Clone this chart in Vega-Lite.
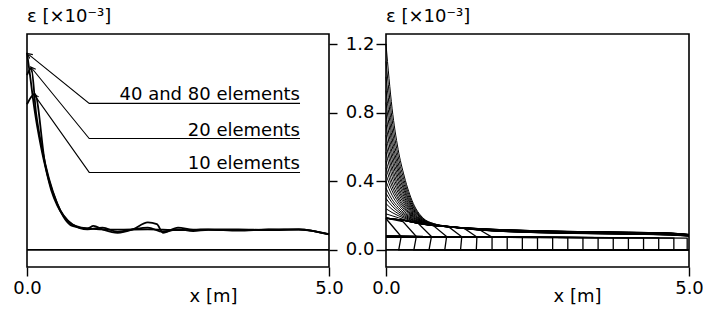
{
"$schema": "https://vega.github.io/schema/vega-lite/v6.json",
"padding": {"left": 11, "top": 7, "right": 0, "bottom": 0},
"background": "white",
"spacing": 57,
"bounds": "flush",
"config": {
  "font": "DejaVu Sans",
  "view": {"stroke": "black", "strokeWidth": 1.6},
  "axis": {"grid": false, "domain": false, "labelFont": "DejaVu Sans", "labelFontSize": 18, "labelColor": "black", "tickColor": "black", "tickWidth": 1.4, "titleFont": "DejaVu Sans", "titleFontSize": 18, "titleFontWeight": "normal", "titleColor": "black", "labelFlush": false},
  "title": {"font": "DejaVu Sans", "fontSize": 18, "fontWeight": "normal", "color": "black", "anchor": "start", "frame": "group", "offset": 8}
},
"datasets": {
  "left": [
    {"s":"a","x":0,"e":1.15},{"s":"a","x":0.05,"e":1.02},{"s":"a","x":0.1,"e":0.88},{"s":"a","x":0.15,"e":0.76},{"s":"a","x":0.2,"e":0.66},{"s":"a","x":0.25,"e":0.57},{"s":"a","x":0.3,"e":0.49},{"s":"a","x":0.4,"e":0.35},{"s":"a","x":0.5,"e":0.26},{"s":"a","x":0.6,"e":0.2},{"s":"a","x":0.7,"e":0.16},{"s":"a","x":0.8,"e":0.14},{"s":"a","x":0.9,"e":0.13},{"s":"a","x":1.0,"e":0.125},{"s":"a","x":1.2,"e":0.12},{"s":"a","x":1.5,"e":0.118},{"s":"a","x":2.0,"e":0.12},{"s":"a","x":2.5,"e":0.115},{"s":"a","x":3.0,"e":0.118},{"s":"a","x":3.5,"e":0.112},{"s":"a","x":4.0,"e":0.12},{"s":"a","x":4.5,"e":0.118},{"s":"a","x":4.75,"e":0.11},{"s":"a","x":5.0,"e":0.092},
    {"s":"b","x":0,"e":1.02},{"s":"b","x":0.07,"e":1.06},{"s":"b","x":0.15,"e":0.8},{"s":"b","x":0.25,"e":0.59},{"s":"b","x":0.5,"e":0.27},{"s":"b","x":0.75,"e":0.15},{"s":"b","x":1.0,"e":0.12},{"s":"b","x":1.25,"e":0.13},{"s":"b","x":1.5,"e":0.105},{"s":"b","x":1.75,"e":0.12},{"s":"b","x":2.0,"e":0.13},{"s":"b","x":2.25,"e":0.105},{"s":"b","x":2.5,"e":0.12},{"s":"b","x":2.75,"e":0.11},{"s":"b","x":3.0,"e":0.117},{"s":"b","x":3.5,"e":0.115},{"s":"b","x":4.0,"e":0.118},{"s":"b","x":4.5,"e":0.12},{"s":"b","x":5.0,"e":0.09},
    {"s":"c","x":0,"e":0.85},{"s":"c","x":0.13,"e":0.91},{"s":"c","x":0.3,"e":0.5},{"s":"c","x":0.5,"e":0.27},{"s":"c","x":0.75,"e":0.14},{"s":"c","x":1.0,"e":0.125},{"s":"c","x":1.1,"e":0.14},{"s":"c","x":1.25,"e":0.12},{"s":"c","x":1.5,"e":0.1},{"s":"c","x":1.75,"e":0.12},{"s":"c","x":2.0,"e":0.16},{"s":"c","x":2.15,"e":0.15},{"s":"c","x":2.25,"e":0.1},{"s":"c","x":2.5,"e":0.13},{"s":"c","x":2.75,"e":0.118},{"s":"c","x":3.0,"e":0.12},{"s":"c","x":3.5,"e":0.12},{"s":"c","x":4.0,"e":0.115},{"s":"c","x":4.5,"e":0.12},{"s":"c","x":5.0,"e":0.09}
  ],
  "leaders": [
    {"s":"a","o":0,"x":0.03,"e":1.14},{"s":"a","o":1,"x":1.03,"e":0.855},{"s":"a","o":2,"x":4.52,"e":0.855},
    {"s":"b","o":0,"x":0.08,"e":1.06},{"s":"b","o":1,"x":1.03,"e":0.65},{"s":"b","o":2,"x":4.52,"e":0.65},
    {"s":"c","o":0,"x":0.13,"e":0.9},{"s":"c","o":1,"x":1.03,"e":0.452},{"s":"c","o":2,"x":4.52,"e":0.452}
  ],
  "labels": [
    {"t":"40 and 80 elements","x":4.52,"e":0.855},
    {"t":"20 elements","x":4.52,"e":0.65},
    {"t":"10 elements","x":4.52,"e":0.452}
  ],
  "zero": [{"x":0,"e":0},{"x":5,"e":0}],
  "dense": [
    {"c":1,"x":0,"e":1.2},{"c":1,"x":0.1,"e":0.827},{"c":1,"x":0.2,"e":0.587},{"c":1,"x":0.3,"e":0.431},{"c":1,"x":0.45,"e":0.271},{"c":1,"x":0.6,"e":0.19},{"c":1,"x":0.8,"e":0.152},{"c":1,"x":1.0,"e":0.139},{"c":1,"x":1.5,"e":0.125},{"c":1,"x":2,"e":0.117},{"c":1,"x":3,"e":0.108},{"c":1,"x":4,"e":0.103},{"c":1,"x":4.7,"e":0.098},{"c":1,"x":5,"e":0.09},
    {"c":2,"x":0,"e":1.1},{"c":2,"x":0.1,"e":0.764},{"c":2,"x":0.2,"e":0.547},{"c":2,"x":0.3,"e":0.405},{"c":2,"x":0.45,"e":0.26},{"c":2,"x":0.6,"e":0.186},{"c":2,"x":0.8,"e":0.151},{"c":2,"x":1.0,"e":0.139},{"c":2,"x":1.5,"e":0.125},{"c":2,"x":2,"e":0.117},{"c":2,"x":3,"e":0.108},{"c":2,"x":4,"e":0.103},{"c":2,"x":4.7,"e":0.098},{"c":2,"x":5,"e":0.09},
    {"c":3,"x":0,"e":1.01},{"c":3,"x":0.1,"e":0.707},{"c":3,"x":0.2,"e":0.51},{"c":3,"x":0.3,"e":0.382},{"c":3,"x":0.45,"e":0.25},{"c":3,"x":0.6,"e":0.183},{"c":3,"x":0.8,"e":0.15},{"c":3,"x":1.0,"e":0.138},{"c":3,"x":1.5,"e":0.125},{"c":3,"x":2,"e":0.117},{"c":3,"x":3,"e":0.108},{"c":3,"x":4,"e":0.103},{"c":3,"x":4.7,"e":0.098},{"c":3,"x":5,"e":0.09},
    {"c":4,"x":0,"e":0.93},{"c":4,"x":0.1,"e":0.656},{"c":4,"x":0.2,"e":0.478},{"c":4,"x":0.3,"e":0.361},{"c":4,"x":0.45,"e":0.241},{"c":4,"x":0.6,"e":0.18},{"c":4,"x":0.8,"e":0.149},{"c":4,"x":1.0,"e":0.138},{"c":4,"x":1.5,"e":0.124},{"c":4,"x":2,"e":0.116},{"c":4,"x":3,"e":0.107},{"c":4,"x":4,"e":0.102},{"c":4,"x":4.7,"e":0.097},{"c":4,"x":5,"e":0.089},
    {"c":5,"x":0,"e":0.86},{"c":5,"x":0.1,"e":0.611},{"c":5,"x":0.2,"e":0.45},{"c":5,"x":0.3,"e":0.344},{"c":5,"x":0.45,"e":0.234},{"c":5,"x":0.6,"e":0.177},{"c":5,"x":0.8,"e":0.148},{"c":5,"x":1.0,"e":0.138},{"c":5,"x":1.5,"e":0.124},{"c":5,"x":2,"e":0.116},{"c":5,"x":3,"e":0.107},{"c":5,"x":4,"e":0.102},{"c":5,"x":4.7,"e":0.097},{"c":5,"x":5,"e":0.089},
    {"c":6,"x":0,"e":0.79},{"c":6,"x":0.1,"e":0.567},{"c":6,"x":0.2,"e":0.422},{"c":6,"x":0.3,"e":0.326},{"c":6,"x":0.45,"e":0.226},{"c":6,"x":0.6,"e":0.174},{"c":6,"x":0.8,"e":0.147},{"c":6,"x":1.0,"e":0.137},{"c":6,"x":1.5,"e":0.123},{"c":6,"x":2,"e":0.115},{"c":6,"x":3,"e":0.106},{"c":6,"x":4,"e":0.101},{"c":6,"x":4.7,"e":0.096},{"c":6,"x":5,"e":0.088},
    {"c":7,"x":0,"e":0.73},{"c":7,"x":0.1,"e":0.529},{"c":7,"x":0.2,"e":0.398},{"c":7,"x":0.3,"e":0.31},{"c":7,"x":0.45,"e":0.219},{"c":7,"x":0.6,"e":0.172},{"c":7,"x":0.8,"e":0.146},{"c":7,"x":1.0,"e":0.137},{"c":7,"x":1.5,"e":0.123},{"c":7,"x":2,"e":0.115},{"c":7,"x":3,"e":0.106},{"c":7,"x":4,"e":0.101},{"c":7,"x":4.7,"e":0.096},{"c":7,"x":5,"e":0.088},
    {"c":8,"x":0,"e":0.67},{"c":8,"x":0.1,"e":0.491},{"c":8,"x":0.2,"e":0.373},{"c":8,"x":0.3,"e":0.295},{"c":8,"x":0.45,"e":0.213},{"c":8,"x":0.6,"e":0.169},{"c":8,"x":0.8,"e":0.146},{"c":8,"x":1.0,"e":0.137},{"c":8,"x":1.5,"e":0.122},{"c":8,"x":2,"e":0.114},{"c":8,"x":3,"e":0.105},{"c":8,"x":4,"e":0.1},{"c":8,"x":4.7,"e":0.095},{"c":8,"x":5,"e":0.087},
    {"c":9,"x":0,"e":0.62},{"c":9,"x":0.1,"e":0.459},{"c":9,"x":0.2,"e":0.353},{"c":9,"x":0.3,"e":0.282},{"c":9,"x":0.45,"e":0.207},{"c":9,"x":0.6,"e":0.167},{"c":9,"x":0.8,"e":0.145},{"c":9,"x":1.0,"e":0.137},{"c":9,"x":1.5,"e":0.122},{"c":9,"x":2,"e":0.114},{"c":9,"x":3,"e":0.105},{"c":9,"x":4,"e":0.1},{"c":9,"x":4.7,"e":0.095},{"c":9,"x":5,"e":0.087},
    {"c":10,"x":0,"e":0.57},{"c":10,"x":0.1,"e":0.427},{"c":10,"x":0.2,"e":0.333},{"c":10,"x":0.3,"e":0.269},{"c":10,"x":0.45,"e":0.202},{"c":10,"x":0.6,"e":0.165},{"c":10,"x":0.8,"e":0.145},{"c":10,"x":1.0,"e":0.137},{"c":10,"x":1.5,"e":0.121},{"c":10,"x":2,"e":0.112},{"c":10,"x":3,"e":0.103},{"c":10,"x":4,"e":0.098},{"c":10,"x":4.7,"e":0.093},{"c":10,"x":5,"e":0.086},
    {"c":11,"x":0,"e":0.52},{"c":11,"x":0.1,"e":0.396},{"c":11,"x":0.2,"e":0.313},{"c":11,"x":0.3,"e":0.256},{"c":11,"x":0.45,"e":0.196},{"c":11,"x":0.6,"e":0.163},{"c":11,"x":0.8,"e":0.144},{"c":11,"x":1.0,"e":0.136},{"c":11,"x":1.5,"e":0.12},{"c":11,"x":2,"e":0.111},{"c":11,"x":3,"e":0.102},{"c":11,"x":4,"e":0.097},{"c":11,"x":4.7,"e":0.092},{"c":11,"x":5,"e":0.085},
    {"c":12,"x":0,"e":0.48},{"c":12,"x":0.1,"e":0.37},{"c":12,"x":0.2,"e":0.297},{"c":12,"x":0.3,"e":0.246},{"c":12,"x":0.45,"e":0.192},{"c":12,"x":0.6,"e":0.162},{"c":12,"x":0.8,"e":0.143},{"c":12,"x":1.0,"e":0.136},{"c":12,"x":1.5,"e":0.12},{"c":12,"x":2,"e":0.11},{"c":12,"x":3,"e":0.101},{"c":12,"x":4,"e":0.096},{"c":12,"x":4.7,"e":0.091},{"c":12,"x":5,"e":0.084},
    {"c":13,"x":0,"e":0.44},{"c":13,"x":0.1,"e":0.345},{"c":13,"x":0.2,"e":0.281},{"c":13,"x":0.3,"e":0.236},{"c":13,"x":0.45,"e":0.188},{"c":13,"x":0.6,"e":0.16},{"c":13,"x":0.8,"e":0.143},{"c":13,"x":1.0,"e":0.136},{"c":13,"x":1.5,"e":0.119},{"c":13,"x":2,"e":0.109},{"c":13,"x":3,"e":0.1},{"c":13,"x":4,"e":0.095},{"c":13,"x":4.7,"e":0.09},{"c":13,"x":5,"e":0.083},
    {"c":14,"x":0,"e":0.4},{"c":14,"x":0.1,"e":0.319},{"c":14,"x":0.2,"e":0.265},{"c":14,"x":0.3,"e":0.226},{"c":14,"x":0.45,"e":0.183},{"c":14,"x":0.6,"e":0.158},{"c":14,"x":0.8,"e":0.143},{"c":14,"x":1.0,"e":0.136},{"c":14,"x":1.5,"e":0.119},{"c":14,"x":2,"e":0.109},{"c":14,"x":3,"e":0.1},{"c":14,"x":4,"e":0.094},{"c":14,"x":4.7,"e":0.09},{"c":14,"x":5,"e":0.083},
    {"c":15,"x":0,"e":0.36},{"c":15,"x":0.1,"e":0.294},{"c":15,"x":0.2,"e":0.249},{"c":15,"x":0.3,"e":0.216},{"c":15,"x":0.45,"e":0.179},{"c":15,"x":0.6,"e":0.157},{"c":15,"x":0.8,"e":0.142},{"c":15,"x":1.0,"e":0.136},{"c":15,"x":1.5,"e":0.118},{"c":15,"x":2,"e":0.108},{"c":15,"x":3,"e":0.099},{"c":15,"x":4,"e":0.094},{"c":15,"x":4.7,"e":0.089},{"c":15,"x":5,"e":0.082},
    {"c":16,"x":0,"e":0.33},{"c":16,"x":0.1,"e":0.275},{"c":16,"x":0.2,"e":0.236},{"c":16,"x":0.3,"e":0.208},{"c":16,"x":0.45,"e":0.175},{"c":16,"x":0.6,"e":0.156},{"c":16,"x":0.8,"e":0.142},{"c":16,"x":1.0,"e":0.136},{"c":16,"x":1.5,"e":0.118},{"c":16,"x":2,"e":0.108},{"c":16,"x":3,"e":0.098},{"c":16,"x":4,"e":0.093},{"c":16,"x":4.7,"e":0.088},{"c":16,"x":5,"e":0.082},
    {"c":17,"x":0,"e":0.3},{"c":17,"x":0.1,"e":0.256},{"c":17,"x":0.2,"e":0.224},{"c":17,"x":0.3,"e":0.2},{"c":17,"x":0.45,"e":0.172},{"c":17,"x":0.6,"e":0.154},{"c":17,"x":0.8,"e":0.141},{"c":17,"x":1.0,"e":0.135},{"c":17,"x":1.5,"e":0.118},{"c":17,"x":2,"e":0.107},{"c":17,"x":3,"e":0.098},{"c":17,"x":4,"e":0.093},{"c":17,"x":4.7,"e":0.088},{"c":17,"x":5,"e":0.082},
    {"c":18,"x":0,"e":0.27},{"c":18,"x":0.1,"e":0.237},{"c":18,"x":0.2,"e":0.212},{"c":18,"x":0.3,"e":0.192},{"c":18,"x":0.45,"e":0.169},{"c":18,"x":0.6,"e":0.153},{"c":18,"x":0.8,"e":0.141},{"c":18,"x":1.0,"e":0.135},{"c":18,"x":1.5,"e":0.117},{"c":18,"x":2,"e":0.107},{"c":18,"x":3,"e":0.097},{"c":18,"x":4,"e":0.092},{"c":18,"x":4.7,"e":0.087},{"c":18,"x":5,"e":0.081},
    {"c":19,"x":0,"e":0.24},{"c":19,"x":0.1,"e":0.218},{"c":19,"x":0.2,"e":0.2},{"c":19,"x":0.3,"e":0.185},{"c":19,"x":0.45,"e":0.166},{"c":19,"x":0.6,"e":0.152},{"c":19,"x":0.8,"e":0.141},{"c":19,"x":1.0,"e":0.135},{"c":19,"x":1.5,"e":0.117},{"c":19,"x":2,"e":0.106},{"c":19,"x":3,"e":0.097},{"c":19,"x":4,"e":0.092},{"c":19,"x":4.7,"e":0.087},{"c":19,"x":5,"e":0.081},
    {"c":20,"x":0,"e":0.21},{"c":20,"x":0.1,"e":0.199},{"c":20,"x":0.2,"e":0.188},{"c":20,"x":0.3,"e":0.177},{"c":20,"x":0.45,"e":0.162},{"c":20,"x":0.6,"e":0.151},{"c":20,"x":0.8,"e":0.14},{"c":20,"x":1.0,"e":0.135},{"c":20,"x":1.5,"e":0.116},{"c":20,"x":2,"e":0.106},{"c":20,"x":3,"e":0.096},{"c":20,"x":4,"e":0.091},{"c":20,"x":4.7,"e":0.086},{"c":20,"x":5,"e":0.08}
  ],
  "boxes": [
    {"c":1,"o":0,"x":0,"e":0.185},{"c":1,"o":1,"x":0.03,"e":0.17},{"c":1,"o":2,"x":0.25,"e":0.078},{"c":1,"o":3,"x":0.21,"e":0},{"c":1,"o":4,"x":5,"e":0},
    {"c":2,"o":0,"x":0,"e":0.185},{"c":2,"o":1,"x":0.28,"e":0.165},{"c":2,"o":2,"x":0.5,"e":0.078},{"c":2,"o":3,"x":0.46,"e":0},{"c":2,"o":4,"x":5,"e":0},
    {"c":3,"o":0,"x":0,"e":0.185},{"c":3,"o":1,"x":0.3,"e":0.172},{"c":3,"o":2,"x":0.53,"e":0.155},{"c":3,"o":3,"x":0.75,"e":0.078},{"c":3,"o":4,"x":0.71,"e":0},{"c":3,"o":5,"x":5,"e":0},
    {"c":4,"o":0,"x":0,"e":0.185},{"c":4,"o":1,"x":0.3,"e":0.172},{"c":4,"o":2,"x":0.6,"e":0.15},{"c":4,"o":3,"x":0.78,"e":0.142},{"c":4,"o":4,"x":1.0,"e":0.078},{"c":4,"o":5,"x":0.97,"e":0},{"c":4,"o":6,"x":5,"e":0},
    {"c":5,"o":0,"x":0,"e":0.185},{"c":5,"o":1,"x":0.3,"e":0.172},{"c":5,"o":2,"x":0.6,"e":0.15},{"c":5,"o":3,"x":1.03,"e":0.135},{"c":5,"o":4,"x":1.25,"e":0.076},{"c":5,"o":5,"x":1.23,"e":0},{"c":5,"o":6,"x":5,"e":0},
    {"c":6,"o":0,"x":0,"e":0.185},{"c":6,"o":1,"x":0.3,"e":0.172},{"c":6,"o":2,"x":0.6,"e":0.15},{"c":6,"o":3,"x":1.0,"e":0.136},{"c":6,"o":4,"x":1.28,"e":0.128},{"c":6,"o":5,"x":1.5,"e":0.075},{"c":6,"o":6,"x":1.49,"e":0},{"c":6,"o":7,"x":5,"e":0},
    {"c":7,"o":0,"x":0,"e":0.185},{"c":7,"o":1,"x":0.3,"e":0.172},{"c":7,"o":2,"x":0.6,"e":0.15},{"c":7,"o":3,"x":1.0,"e":0.136},{"c":7,"o":4,"x":1.53,"e":0.12},{"c":7,"o":5,"x":1.75,"e":0.074},{"c":7,"o":6,"x":1.75,"e":0},{"c":7,"o":7,"x":5,"e":0},
    {"c":8,"o":0,"x":0,"e":0.078},{"c":8,"o":1,"x":2.0,"e":0.073},{"c":8,"o":2,"x":2.0,"e":0},{"c":8,"o":3,"x":5,"e":0},
    {"c":9,"o":0,"x":0,"e":0.078},{"c":9,"o":1,"x":2.25,"e":0.073},{"c":9,"o":2,"x":2.25,"e":0},{"c":9,"o":3,"x":5,"e":0},
    {"c":10,"o":0,"x":0,"e":0.078},{"c":10,"o":1,"x":2.5,"e":0.072},{"c":10,"o":2,"x":2.5,"e":0},{"c":10,"o":3,"x":5,"e":0},
    {"c":11,"o":0,"x":0,"e":0.078},{"c":11,"o":1,"x":2.75,"e":0.072},{"c":11,"o":2,"x":2.75,"e":0},{"c":11,"o":3,"x":5,"e":0},
    {"c":12,"o":0,"x":0,"e":0.078},{"c":12,"o":1,"x":3.0,"e":0.072},{"c":12,"o":2,"x":3.0,"e":0},{"c":12,"o":3,"x":5,"e":0},
    {"c":13,"o":0,"x":0,"e":0.078},{"c":13,"o":1,"x":3.25,"e":0.071},{"c":13,"o":2,"x":3.25,"e":0},{"c":13,"o":3,"x":5,"e":0},
    {"c":14,"o":0,"x":0,"e":0.078},{"c":14,"o":1,"x":3.5,"e":0.071},{"c":14,"o":2,"x":3.5,"e":0},{"c":14,"o":3,"x":5,"e":0},
    {"c":15,"o":0,"x":0,"e":0.078},{"c":15,"o":1,"x":3.75,"e":0.071},{"c":15,"o":2,"x":3.75,"e":0},{"c":15,"o":3,"x":5,"e":0},
    {"c":16,"o":0,"x":0,"e":0.078},{"c":16,"o":1,"x":4.0,"e":0.07},{"c":16,"o":2,"x":4.0,"e":0},{"c":16,"o":3,"x":5,"e":0},
    {"c":17,"o":0,"x":0,"e":0.078},{"c":17,"o":1,"x":4.25,"e":0.07},{"c":17,"o":2,"x":4.25,"e":0},{"c":17,"o":3,"x":5,"e":0},
    {"c":18,"o":0,"x":0,"e":0.078},{"c":18,"o":1,"x":4.5,"e":0.07},{"c":18,"o":2,"x":4.5,"e":0},{"c":18,"o":3,"x":5,"e":0},
    {"c":19,"o":0,"x":0,"e":0.078},{"c":19,"o":1,"x":4.75,"e":0.069},{"c":19,"o":2,"x":4.75,"e":0},{"c":19,"o":3,"x":5,"e":0},
    {"c":20,"o":0,"x":0,"e":0.078},{"c":20,"o":1,"x":4.97,"e":0.069},{"c":20,"o":2,"x":4.97,"e":0},{"c":20,"o":3,"x":5,"e":0}
  ]
},
"hconcat": [
  {
    "width": 302,
    "height": 233,
    "title": {"text": "ε [×10⁻³]"},
    "encoding": {
      "x": {"field": "x", "type": "quantitative", "scale": {"domain": [0, 5], "nice": false, "zero": false},
            "axis": {"values": [0, 5], "format": ".1f", "tickSize": 9, "labelPadding": 3, "title": "x [m]", "titleX": 186, "titleY": 29, "titleBaseline": "middle", "titleAlign": "center"}},
      "y": {"field": "e", "type": "quantitative", "scale": {"domain": [-0.1, 1.26], "nice": false, "zero": false},
            "axis": {"orient": "right", "values": [0, 0.4, 0.8, 1.2], "labels": false, "tickSize": 8, "title": null}}
    },
    "layer": [
      {"data": {"name": "zero"}, "mark": {"type": "line", "color": "black", "strokeWidth": 1.6}},
      {"data": {"name": "left"}, "mark": {"type": "line", "color": "black", "strokeWidth": 1.8, "interpolate": "monotone"},
       "encoding": {"detail": {"field": "s"}}},
      {"data": {"name": "leaders"}, "mark": {"type": "line", "color": "black", "strokeWidth": 1.1},
       "encoding": {"detail": {"field": "s"}, "order": {"field": "o", "type": "quantitative"}}},
      {"data": {"name": "leaders"}, "transform": [{"filter": "datum.s == 'a' && datum.o == 0"}],
       "mark": {"type": "point", "shape": "M -0.7 0.9 L 0 -0.5 L 0.7 0.9", "filled": false, "stroke": "black", "strokeWidth": 1.1, "size": 50, "angle": 309, "opacity": 1}},
      {"data": {"name": "leaders"}, "transform": [{"filter": "datum.s == 'b' && datum.o == 0"}],
       "mark": {"type": "point", "shape": "M -0.7 0.9 L 0 -0.5 L 0.7 0.9", "filled": false, "stroke": "black", "strokeWidth": 1.1, "size": 50, "angle": 321, "opacity": 1}},
      {"data": {"name": "leaders"}, "transform": [{"filter": "datum.s == 'c' && datum.o == 0"}],
       "mark": {"type": "point", "shape": "M -0.7 0.9 L 0 -0.5 L 0.7 0.9", "filled": false, "stroke": "black", "strokeWidth": 1.1, "size": 50, "angle": 325, "opacity": 1}},
      {"data": {"name": "labels"}, "mark": {"type": "text", "align": "right", "baseline": "alphabetic", "dy": -3, "fontSize": 18, "font": "DejaVu Sans", "color": "black"},
       "encoding": {"text": {"field": "t"}}}
    ]
  },
  {
    "width": 303,
    "height": 233,
    "title": {"text": "ε [×10⁻³]"},
    "encoding": {
      "x": {"field": "x", "type": "quantitative", "scale": {"domain": [0, 5], "nice": false, "zero": false},
            "axis": {"values": [0, 5], "format": ".1f", "tickSize": 9, "labelPadding": 3, "title": "x [m]", "titleX": 191, "titleY": 29, "titleBaseline": "middle", "titleAlign": "center"}},
      "y": {"field": "e", "type": "quantitative", "scale": {"domain": [-0.1, 1.26], "nice": false, "zero": false},
            "axis": {"orient": "left", "values": [0, 0.4, 0.8, 1.2], "format": ".1f", "tickSize": 10, "labelPadding": 2, "title": null}}
    },
    "layer": [
      {"data": {"name": "zero"}, "mark": {"type": "line", "color": "black", "strokeWidth": 1.6}},
      {"data": {"name": "dense"}, "mark": {"type": "line", "color": "black", "strokeWidth": 1.0, "interpolate": "monotone"},
       "encoding": {"detail": {"field": "c"}}},
      {"data": {"name": "boxes"}, "mark": {"type": "line", "color": "black", "strokeWidth": 1.3},
       "encoding": {"detail": {"field": "c"}, "order": {"field": "o", "type": "quantitative"}}}
    ]
  }
]
}
